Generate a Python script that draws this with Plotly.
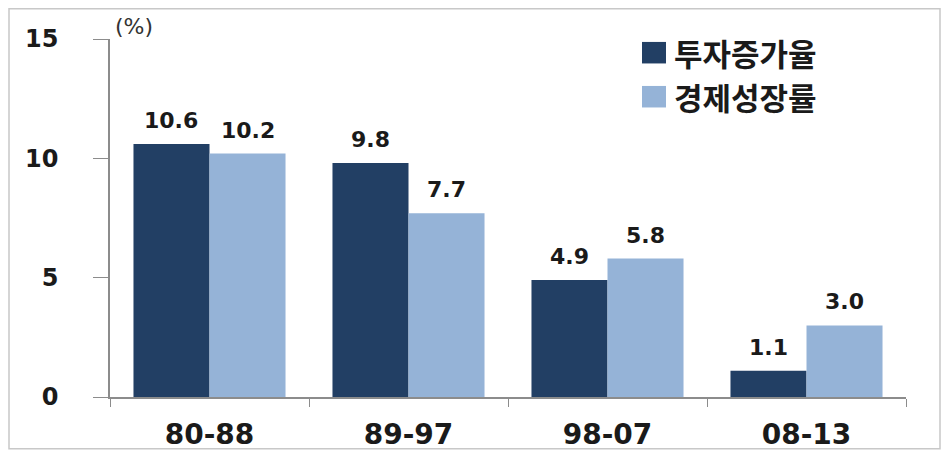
import plotly.graph_objects as go

# Period categories and the two series (%)
periods = ["80-88", "89-97", "98-07", "08-13"]
investment_growth = [10.6, 9.8, 4.9, 1.1]   # 투자증가율
economic_growth = [10.2, 7.7, 5.8, 3.0]     # 경제성장률
series_names = ["투자증가율", "경제성장률"]
y_ticks = [0, 5, 10, 15]

DARK = "#223F64"
LIGHT = "#95B3D7"
NUM_FONT = "DejaVu Sans"
KR_FONT = "Noto Sans CJK KR"

W, H = 945, 463
ML, MR, MT, MB = 110, 39, 39, 58
plot_w = W - ML - MR
plot_h = H - MT - MB
BARGAP = 0.236

fig = go.Figure()
for name, vals, col in zip(series_names, [investment_growth, economic_growth], [DARK, LIGHT]):
    fig.add_trace(go.Bar(x=periods, y=vals, name=name, marker=dict(color=col, line=dict(width=0)),
                         showlegend=False))

# value labels above each bar
cat_w = plot_w / len(periods)
bar_w = cat_w * (1 - BARGAP) / 2
for k, vals in enumerate([investment_growth, economic_growth]):
    shift = (k - 0.5) * bar_w
    for p, v in zip(periods, vals):
        fig.add_annotation(x=p, y=v, text=f"<b>{v:.1f}</b>", showarrow=False,
                           xshift=shift, yshift=9, yanchor="bottom",
                           font=dict(family=NUM_FONT, size=22, color="#1a1a1a"))

def px_x(px):
    return (px - ML) / plot_w

def px_y(py):
    return (H - MB - py) / plot_h

# unit label
fig.add_annotation(xref="paper", yref="paper", x=px_x(113), y=px_y(26), text="(%)",
                   showarrow=False, xanchor="left", yanchor="middle",
                   font=dict(family=NUM_FONT, size=22, color="#333333"))

# legend drawn as swatches + labels
for i, (name, col) in enumerate(zip(series_names, [DARK, LIGHT])):
    cy = 53 + i * 45
    fig.add_shape(type="rect", xref="paper", yref="paper",
                  x0=px_x(642), x1=px_x(666), y0=px_y(cy + 11), y1=px_y(cy - 11),
                  fillcolor=col, line=dict(width=0))
    fig.add_annotation(xref="paper", yref="paper", x=px_x(672), y=px_y(cy), text=f"<b>{name}</b>",
                       showarrow=False, xanchor="left", yanchor="middle",
                       font=dict(family=KR_FONT, size=31, color="#1a1a1a"))

# outer frame
fig.add_shape(type="rect", xref="paper", yref="paper",
              x0=px_x(9), x1=px_x(940), y0=px_y(458), y1=px_y(8),
              line=dict(color="#c8c8c8", width=1.5), fillcolor="rgba(0,0,0,0)")

fig.update_layout(
    width=W, height=H,
    margin=dict(l=ML, r=MR, t=MT, b=MB),
    paper_bgcolor="white", plot_bgcolor="white",
    barmode="group", bargap=BARGAP, bargroupgap=0,
    xaxis=dict(
        type="category", showline=True, linecolor="#8c8c8c", linewidth=1.5,
        ticks="outside", tickson="boundaries", ticklen=8, tickcolor="#8c8c8c",
        showgrid=False, ticklabelstandoff=12,
        tickfont=dict(family=NUM_FONT, size=28, color="#1a1a1a"),
        tickvals=periods, ticktext=[f"<b>{p}</b>" for p in periods],
    ),
    yaxis=dict(
        range=[0, 15], tickvals=y_ticks, ticktext=[f"<b>{t}</b>" for t in y_ticks],
        showline=True, linecolor="#8c8c8c", linewidth=1.5,
        ticks="outside", ticklen=15, tickcolor="#8c8c8c",
        showgrid=False, zeroline=False, ticklabelstandoff=30,
        tickfont=dict(family=NUM_FONT, size=24, color="#1a1a1a"),
    ),
)

fig.write_html("out.html")
